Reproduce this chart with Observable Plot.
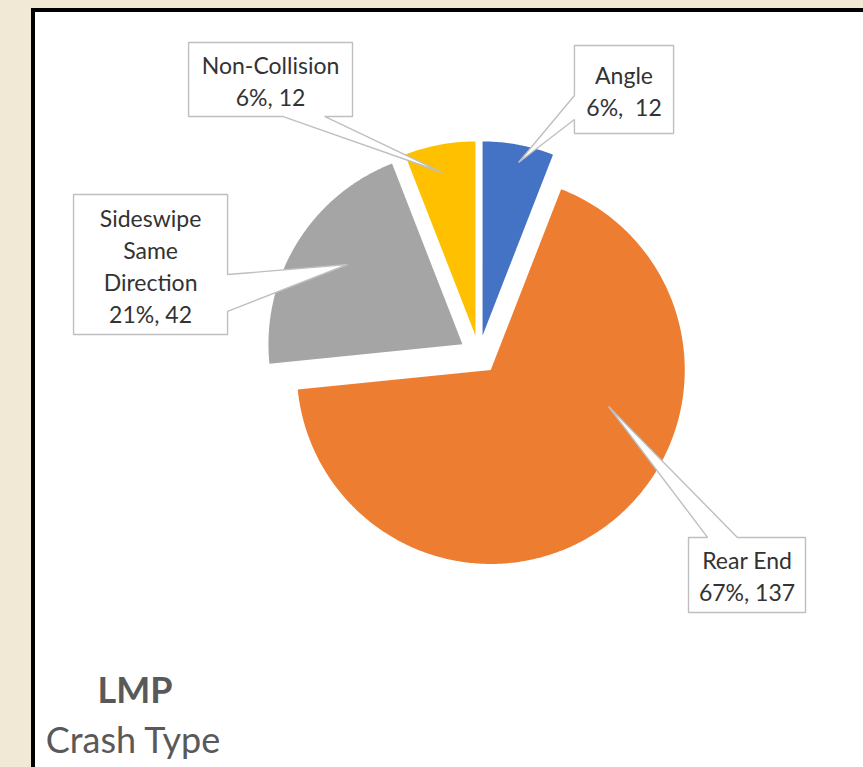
<!DOCTYPE html>
<html><head><meta charset="utf-8">
<script src="https://cdn.jsdelivr.net/npm/d3@7"></script>
<script src="https://cdn.jsdelivr.net/npm/@observablehq/plot@0.6"></script>
<style>
html,body{margin:0;padding:0;width:863px;height:767px;overflow:hidden;background:#F1E8D6;}
#panel{position:absolute;left:31px;top:8px;width:1000px;height:1000px;border:4px solid #000;background:#fff;box-sizing:content-box;}
#chart{position:absolute;left:0;top:0;}
.title{position:absolute;left:35px;width:200px;font-family:Lato,sans-serif;color:#595959;text-align:center;line-height:1;white-space:nowrap;}
</style></head><body>
<div id="panel"></div>
<div id="chart"></div>
<div class="title" style="top:671px;font-size:36px;font-weight:bold;">LMP</div>
<div class="title" style="top:721px;font-size:36px;left:33px;">Crash Type</div>
<script>
// ---- data ----
const categories = ["Angle", "Rear End", "Sideswipe Same Direction", "Non-Collision"];
const counts = [12, 137, 42, 12];
const colors = ["#4472C4", "#ED7D31", "#A5A5A5", "#FFC000"];
const valueSeparators = [",  ", ", ", ", ", ", "];

// ---- layout (pie-radius units, centre of pie = 0,0) ----
const EXPLODE = 0.1;
const callouts = [
  {category: "Angle", box: [0.492, 1.139, 1.003, 1.593], edge: "left", base: [1.211, 1.335], tip: [0.204, 0.990], wrap: false},
  {category: "Rear End", box: [1.080, -1.330, 1.683, -0.943], edge: "top", base: [1.178, 1.332], tip: [0.668, -0.268], wrap: false},
  {category: "Sideswipe Same Direction", box: [-2.090, 0.103, -1.296, 0.825], edge: "right", base: [0.222, 0.412], tip: [-0.678, 0.464], wrap: true},
  {category: "Non-Collision", box: [-1.497, 1.227, -0.652, 1.608], edge: "bottom", base: [-1.013, -0.796], tip: [-0.188, 0.938], wrap: false}
];

const total = d3.sum(counts);
const rows = categories.map((c, i) => ({category: c, count: counts[i], i}));
const arcs = d3.pie().sort(null).value(d => d.count)(rows);

const slicePts = [];
arcs.forEach(a => {
  const c = a.data.category;
  const mid = (a.startAngle + a.endAngle) / 2;
  const ox = EXPLODE * Math.sin(mid), oy = EXPLODE * Math.cos(mid);
  const n = Math.max(10, Math.ceil((a.endAngle - a.startAngle) / 0.01));
  slicePts.push({category: c, x: ox, y: oy});
  for (let k = 0; k <= n; k++) {
    const t = a.startAngle + (a.endAngle - a.startAngle) * k / n;
    slicePts.push({category: c, x: ox + Math.sin(t), y: oy + Math.cos(t)});
  }
  slicePts.push({category: c, x: ox, y: oy});
});

const calloutPts = [];
callouts.forEach(co => {
  const [x1, y1, x2, y2] = co.box;
  const [b1, b2] = co.base;
  const lo = Math.min(b1, b2), hi = Math.max(b1, b2);
  const tip = {x: co.tip[0], y: co.tip[1]};
  let pts = [{x: x1, y: y2}];
  if (co.edge === "top") pts.push({x: lo, y: y2}, tip, {x: hi, y: y2});
  pts.push({x: x2, y: y2});
  if (co.edge === "right") pts.push({x: x2, y: hi}, tip, {x: x2, y: lo});
  pts.push({x: x2, y: y1});
  if (co.edge === "bottom") pts.push({x: hi, y: y1}, tip, {x: lo, y: y1});
  pts.push({x: x1, y: y1});
  if (co.edge === "left") pts.push({x: x1, y: lo}, tip, {x: x1, y: hi});
  pts.push({x: x1, y: y2});
  pts.forEach(p => calloutPts.push({id: co.category, ...p}));
});

const labels = callouts.map(co => {
  const i = categories.indexOf(co.category);
  const name = co.wrap ? co.category.split(" ").join("\n") : co.category;
  const pct = Math.round(counts[i] / total * 100);
  return {
    x: (co.box[0] + co.box[2]) / 2,
    y: (co.box[1] + co.box[3]) / 2,
    text: name + "\n" + pct + "%" + valueSeparators[i] + counts[i]
  };
});

const W = 863, H = 767, R = 194, CX = 478.5, CY = 354;
const plot = Plot.plot({
  width: W, height: H, margin: 0,
  x: {domain: [-CX / R, (W - CX) / R], axis: null},
  y: {domain: [-(H - CY) / R, CY / R], axis: null},
  color: {domain: categories, range: colors},
  style: {background: "transparent", overflow: "visible"},
  marks: [
    Plot.line(slicePts, {x: "x", y: "y", z: "category", fill: "category", stroke: "none", curve: "linear"}),
    Plot.line(calloutPts, {x: "x", y: "y", z: "id", fill: "white", stroke: "#BFBFBF", strokeWidth: 1.4, strokeLinejoin: "miter", curve: "linear"}),
    Plot.text(labels, {x: "x", y: "y", text: "text", lineAnchor: "middle", fontSize: 23, lineHeight: 1.39, fill: "#333333", fontFamily: "Lato, sans-serif", style: "white-space:pre"})
  ]
});
plot.querySelectorAll("text").forEach(t => t.setAttribute("xml:space", "preserve"));
document.getElementById("chart").appendChild(plot);
</script>
</body></html>
